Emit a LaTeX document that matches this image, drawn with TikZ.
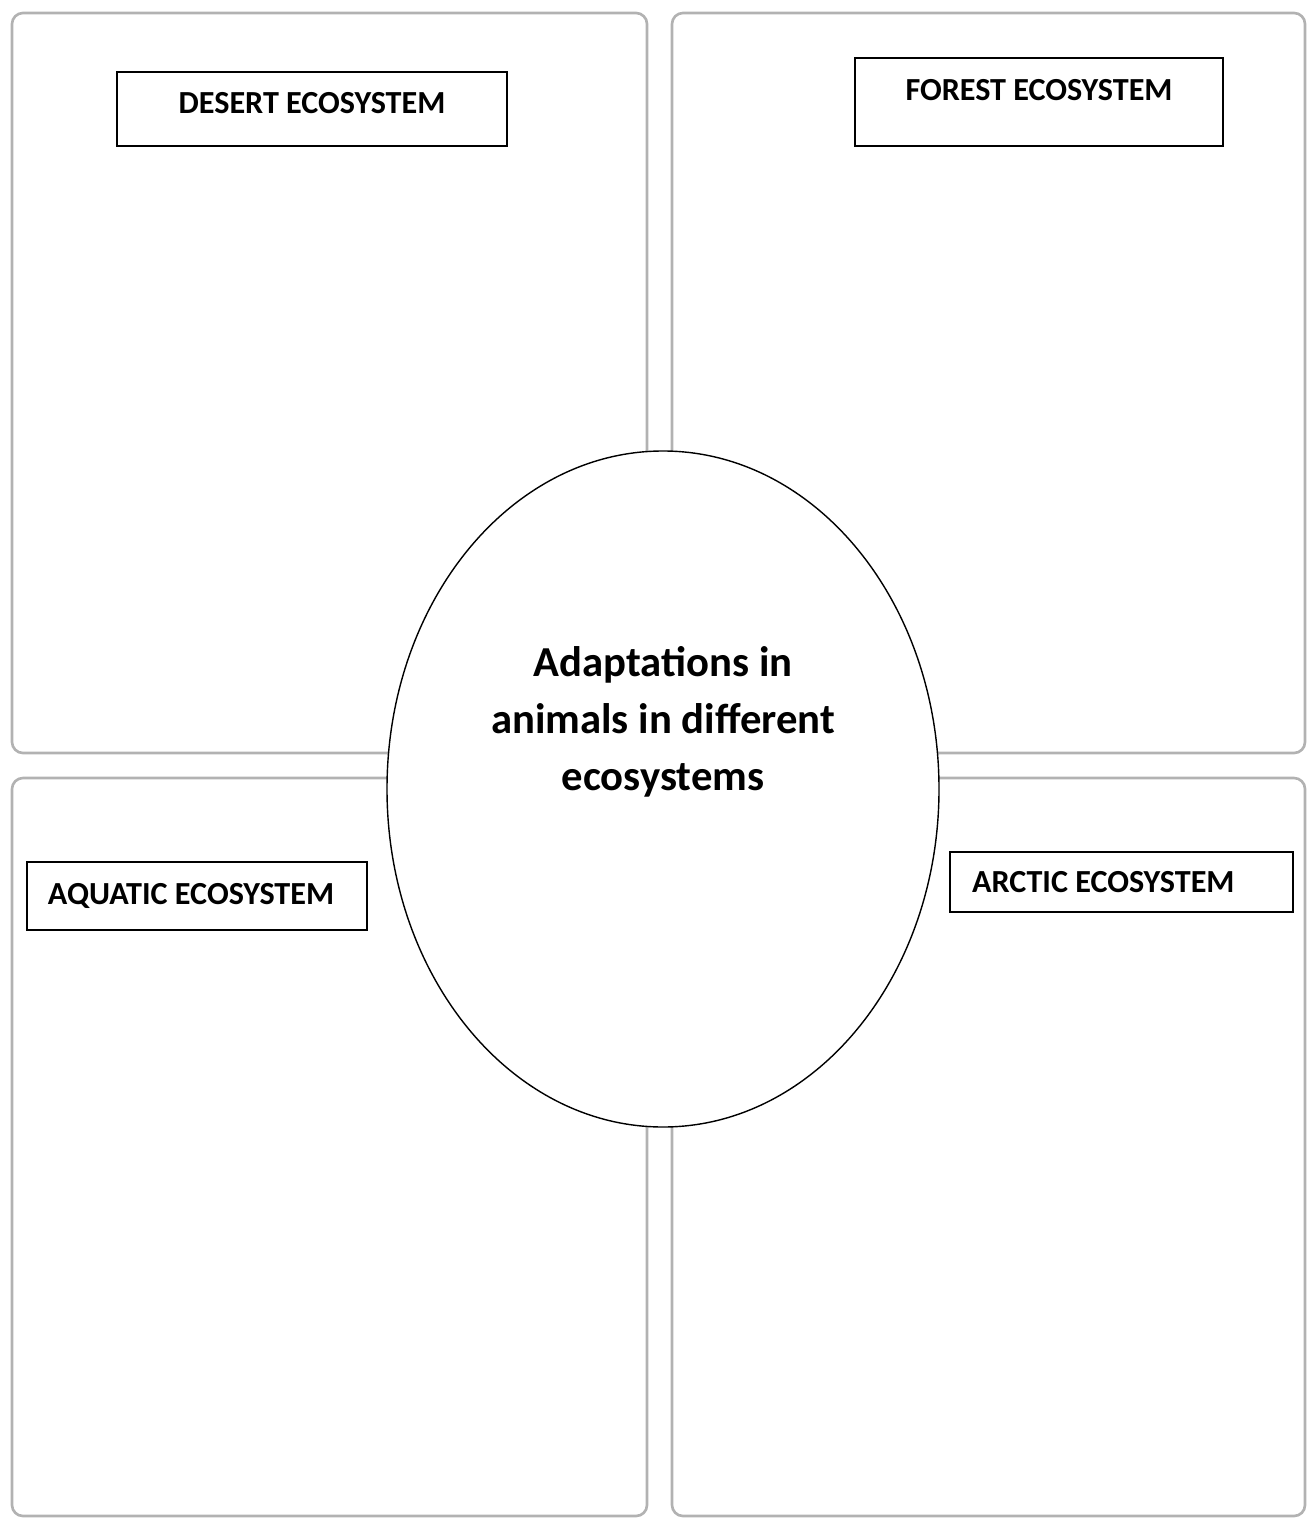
\documentclass[tikz,border=0pt]{standalone}
\usepackage{fontspec}
\setmainfont{Carlito}
\usetikzlibrary{shapes.geometric}

\begin{document}
\begin{tikzpicture}[
  x=0.2mm, y=-0.2mm,
  panel/.style={draw=gray!60, line width=1.5pt, rounded corners=2.2mm, inner sep=0pt},
  box/.style={draw, line width=0.8pt, fill=white, inner sep=0pt, font=\bfseries\fontsize{18.3}{22}\selectfont},
  hub/.style={draw, ellipse, line width=0.8pt, fill=white, minimum width=110.4mm, minimum height=135.2mm, inner sep=0pt},
  hubtext/.style={align=center, font=\bfseries\fontsize{24.3}{32.3}\selectfont}
]
  \useasboundingbox (0,0) rectangle (1310,1519);

  % Panels
  \node[panel, minimum width=127mm, minimum height=148mm] (desertpanel) at (329.5, 383) {};
  \node[panel, minimum width=126.6mm, minimum height=148mm] (forestpanel) at (988.5, 383) {};
  \node[panel, minimum width=127mm, minimum height=147.6mm] (aquaticpanel) at (329.5, 1147) {};
  \node[panel, minimum width=126.6mm, minimum height=147.6mm] (arcticpanel) at (988.5, 1147) {};

  % Titles
  \node[box, minimum width=78mm, minimum height=14.8mm, text depth=2.4mm] (desert) at (312, 109) {DESERT ECOSYSTEM};
  \node[box, minimum width=73.6mm, minimum height=17.6mm, text depth=5.0mm] (forest) at (1039, 102) {FOREST ECOSYSTEM};
  \node[box, minimum width=68mm, minimum height=13.6mm, inner xsep=4.2mm, text width=59.6mm, align=flush left] (aquatic) at (197, 896) {AQUATIC ECOSYSTEM};
  \node[box, minimum width=68.6mm, minimum height=12mm, inner xsep=4.4mm, text width=59.8mm, align=flush left] (arctic) at (1121.5, 882) {ARCTIC ECOSYSTEM};

  % Centre
  \node[hub] (hub) at (663, 789) {};
  \node[hubtext] (hubtitle) at (663, 722) {Adaptations in\\animals in different\\ecosystems};
\end{tikzpicture}
\end{document}
